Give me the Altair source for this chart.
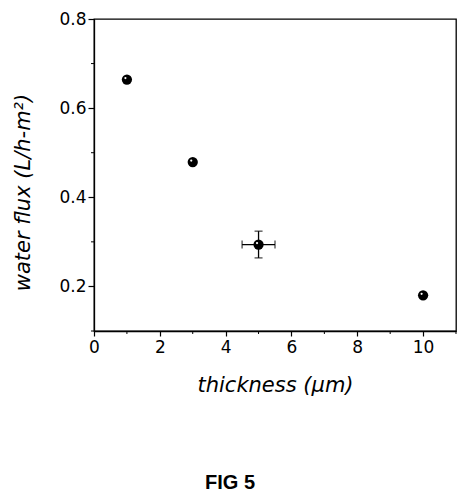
import altair as alt
import pandas as pd

# Membrane thickness (um) vs. water flux (L/h-m^2)
thickness = [1, 3, 5, 10]
flux = [0.664, 0.479, 0.294, 0.180]
thickness_err = [0.0, 0.0, 0.5, 0.0]
flux_err = [0.0, 0.0, 0.03, 0.0]

x_major = [0, 2, 4, 6, 8, 10]
x_minor = [1, 3, 5, 7, 9, 11]
y_major = [0.2, 0.4, 0.6, 0.8]
y_minor = [0.1, 0.3, 0.5, 0.7]

df = pd.DataFrame({
    "t": thickness,
    "f": flux,
    "t_lo": [a - b for a, b in zip(thickness, thickness_err)],
    "t_hi": [a + b for a, b in zip(thickness, thickness_err)],
    "f_lo": [a - b for a, b in zip(flux, flux_err)],
    "f_hi": [a + b for a, b in zip(flux, flux_err)],
})
err_df = df[(df["t_hi"] > df["t_lo"]) | (df["f_hi"] > df["f_lo"])]

FONT = "DejaVu Sans"
W, H = 362, 312

xs = alt.Scale(domain=[0, 11], nice=False, zero=False)
ys = alt.Scale(domain=[0.1, 0.8], nice=False, zero=False)

x_axis = alt.Axis(
    values=x_major, title="thickness (\u03bcm)", format="d", grid=False,
    tickSize=5, labelFontSize=17, labelPadding=3, labelFlush=False,
    titleFontSize=21, titleFontStyle="italic", titleFontWeight="normal", titleY=43,
    labelFont=FONT, titleFont=FONT, domainColor="black", tickColor="black",
    labelColor="black", titleColor="black",
)
y_axis = alt.Axis(
    values=y_major, title="water flux (L/h-m\u00b2)", format=".1f", grid=False,
    tickSize=6, labelFontSize=17, labelPadding=2, labelFlush=False,
    titleFontSize=21, titleFontStyle="italic", titleFontWeight="normal",
    titleX=-61, titleY=173,
    labelFont=FONT, titleFont=FONT, domainColor="black", tickColor="black",
    labelColor="black", titleColor="black",
)

base = alt.Chart(df)

points = base.mark_point(filled=True, color="black", size=105, opacity=1).encode(
    x=alt.X("t:Q", scale=xs, axis=x_axis),
    y=alt.Y("f:Q", scale=ys, axis=y_axis),
)
shine = base.mark_point(filled=True, color="white", size=5, opacity=1,
                        xOffset=-1.5, yOffset=-1.5).encode(
    x=alt.X("t:Q", scale=xs), y=alt.Y("f:Q", scale=ys)
)

err_base = alt.Chart(err_df)
v_err = err_base.mark_rule(color="black", strokeWidth=1.3).encode(
    x=alt.X("t:Q", scale=xs), y=alt.Y("f_lo:Q", scale=ys), y2="f_hi:Q"
)
h_err = err_base.mark_rule(color="black", strokeWidth=1.3).encode(
    y=alt.Y("f:Q", scale=ys), x=alt.X("t_lo:Q", scale=xs), x2="t_hi:Q"
)
cap_top = err_base.mark_tick(color="black", size=8, thickness=1.3, orient="horizontal").encode(
    x=alt.X("t:Q", scale=xs), y=alt.Y("f_hi:Q", scale=ys)
)
cap_bot = err_base.mark_tick(color="black", size=8, thickness=1.3, orient="horizontal").encode(
    x=alt.X("t:Q", scale=xs), y=alt.Y("f_lo:Q", scale=ys)
)
cap_l = err_base.mark_tick(color="black", size=8, thickness=1.3, orient="vertical").encode(
    x=alt.X("t_lo:Q", scale=xs), y=alt.Y("f:Q", scale=ys)
)
cap_r = err_base.mark_tick(color="black", size=8, thickness=1.3, orient="vertical").encode(
    x=alt.X("t_hi:Q", scale=xs), y=alt.Y("f:Q", scale=ys)
)

# minor tick marks drawn outside the frame
xm = alt.Chart(pd.DataFrame({"v": x_minor})).mark_rule(color="black").encode(
    x=alt.X("v:Q", scale=xs), y=alt.value(H), y2=alt.value(H + 3)
)
ym = alt.Chart(pd.DataFrame({"v": y_minor})).mark_rule(color="black").encode(
    y=alt.Y("v:Q", scale=ys), x=alt.value(0), x2=alt.value(-3)
)

caption = alt.Chart(pd.DataFrame({"c": ["FIG 5"]})).mark_text(
    font="Liberation Sans", fontSize=20, fontWeight="bold", color="black",
    baseline="middle", align="center"
).encode(x=alt.value(136), y=alt.value(464), text="c:N")

chart = alt.layer(
    v_err, h_err, cap_top, cap_bot, cap_l, cap_r, points, shine, xm, ym, caption
).properties(
    width=W, height=H,
    autosize=alt.AutoSizeParams(type="none"),
    padding={"left": 94, "top": 19, "right": 14, "bottom": 170},
    background="white",
).configure_view(
    stroke="black", strokeWidth=1.3
).configure_axis(
    domainWidth=1.3, tickWidth=1.2
)

chart.save("out.html", embed_options={"renderer": "svg", "actions": False})
